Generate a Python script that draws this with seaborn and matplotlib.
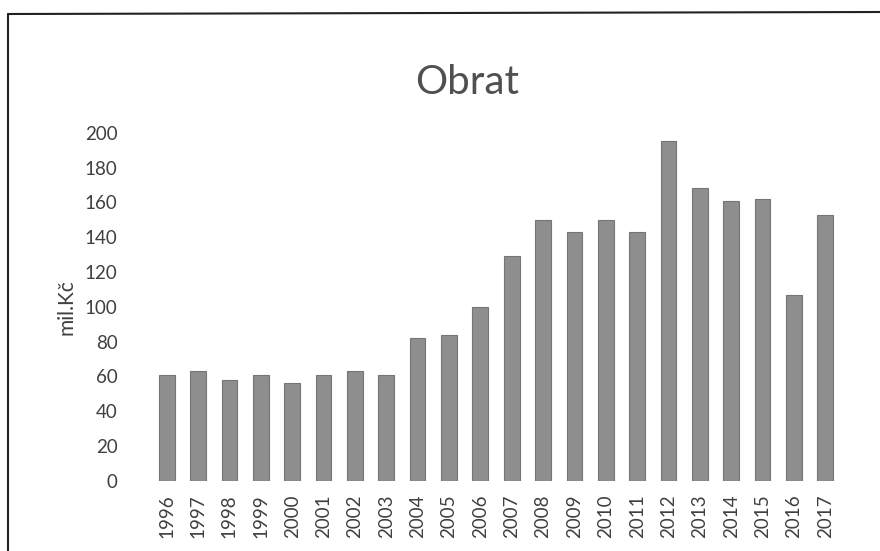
import matplotlib
matplotlib.use('Agg')
import matplotlib.pyplot as plt
import seaborn as sns
from matplotlib.lines import Line2D

# Data (mil. Kč)
years = [str(y) for y in range(1996, 2018)]
obrat = [61, 63, 58, 61, 56, 61, 63, 61, 82, 84, 100, 129,
         150, 143, 150, 143, 195, 168, 161, 162, 107, 153]

sns.set_theme(style='white')
plt.rcParams['font.family'] = ['Lato', 'DejaVu Sans']

fig = plt.figure(figsize=(8.8, 5.51), dpi=100)
ax = fig.add_axes([0.1716, 0.1276, 0.7841, 0.6314])

sns.barplot(x=years, y=obrat, color='#8e8e8e', width=0.5, ax=ax,
            edgecolor='#757575', linewidth=0.8, saturation=1)

ax.set_ylim(0, 200)
ax.set_yticks(range(0, 201, 20))
ax.set_xlim(-0.5, len(years) - 0.5)
ax.tick_params(axis='y', labelsize=13.5, labelcolor='#404040', length=0, pad=24)
ax.tick_params(axis='x', labelsize=13.5, labelcolor='#404040', length=0,
               rotation=90, pad=10)
ax.set_xlabel('')
ax.set_ylabel('mil.Kč', fontsize=15, color='#404040', labelpad=6)
for s in ax.spines.values():
    s.set_visible(False)

fig.text(0.531, 0.851, 'Obrat', ha='center', va='center', fontsize=29,
         color='#505050')

# scanned chart frame (top and left edges)
fig.add_artist(Line2D([8 / 880, 1.0], [1 - 14 / 551, 1 - 12 / 551],
                      transform=fig.transFigure, color='#222222', lw=1.5))
fig.add_artist(Line2D([8 / 880, 8 / 880], [0, 1 - 14 / 551],
                      transform=fig.transFigure, color='#222222', lw=1.5))

fig.savefig('out.png', dpi=100)
